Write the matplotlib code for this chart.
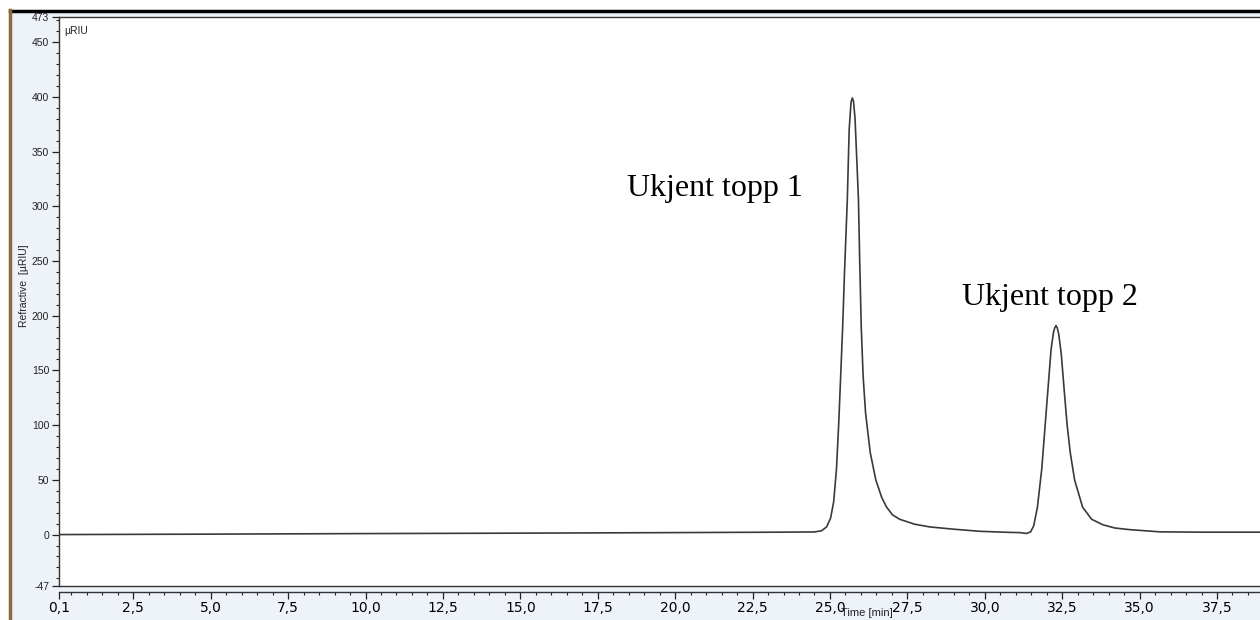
import matplotlib
matplotlib.use("Agg")
import matplotlib.pyplot as plt
from matplotlib.patches import Rectangle
from matplotlib.lines import Line2D

tid = [0.1, 5.0, 10.0, 15.0, 20.0, 23.4, 24.50, 24.73, 24.89, 25.02, 25.12,
       25.21, 25.28, 25.34, 25.41, 25.47, 25.56, 25.62, 25.68, 25.72, 25.76,
       25.81, 25.87, 25.92, 25.96, 26.01, 26.07, 26.15, 26.30, 26.48, 26.67,
       26.83, 27.02, 27.25, 27.73, 28.22, 28.96, 29.83, 30.80, 31.13, 31.35,
       31.48, 31.58, 31.70, 31.84, 31.98, 32.06, 32.14, 32.22, 32.26, 32.30,
       32.34, 32.39, 32.47, 32.57, 32.66, 32.76, 32.90, 33.16, 33.45, 33.81,
       34.20, 34.68, 35.65, 36.95, 39.1]
signal = [0.0, 0.4, 0.9, 1.3, 1.8, 2.2, 2.4, 3.5, 7.0, 15.0, 30.0,
          60.0, 100.0, 141.0, 190.0, 240.0, 306.0, 370.0, 395.0, 399.0, 396.0,
          380.0, 340.0, 306.0, 250.0, 190.0, 145.0, 111.0, 75.0, 50.0, 34.0,
          25.0, 18.0, 14.0, 9.5, 7.0, 5.0, 3.0, 2.0, 1.8, 1.0,
          2.5, 8.0, 25.0, 60.0, 111.0, 140.0, 169.0, 185.0, 189.0, 191.0,
          189.0, 183.0, 165.0, 130.0, 100.0, 75.0, 50.0, 25.0, 14.0, 9.0,
          6.0, 4.5, 2.5, 2.2, 2.2]

xticks = [0.1, 2.5, 5.0, 7.5, 10.0, 12.5, 15.0, 17.5, 20.0, 22.5, 25.0,
          27.5, 30.0, 32.5, 35.0, 37.5]
yticks = [-47, 0, 50, 100, 150, 200, 250, 300, 350, 400, 450, 473]

topper = ["Ukjent topp 1", "Ukjent topp 2"]
topp_pos = [(18.46, 309), (29.28, 210)]

W, H = 1260, 620
fig = plt.figure(figsize=(W / 100, H / 100), dpi=100, facecolor="white")

# ----- cadre de la fenetre du logiciel -----
fig.patches.append(Rectangle((10 / W, 0), 1, (H - 10) / H, transform=fig.transFigure,
                             facecolor="#eef2f9", edgecolor="none", zorder=-10))
fig.lines.append(Line2D([10 / W, 1], [(H - 11) / H] * 2, transform=fig.transFigure,
                        color="black", lw=2.5, zorder=-5))
fig.lines.append(Line2D([9.5 / W] * 2, [0, (H - 10) / H], transform=fig.transFigure,
                        color="#8a6a40", lw=2.5, zorder=-5))

ax = fig.add_axes([59 / W, 34 / H, (1265 - 59) / W, (586 - 17) / H])
ax.set_facecolor("white")
ax.plot(tid, signal, color="#3a3a3a", lw=1.2)

ax.set_xlim(0.1, 39.05)
ax.set_ylim(-47, 473)

ax.set_xticks(xticks)
ax.set_xticklabels([("%.1f" % v).replace(".", ",") for v in xticks])
ax.set_xticks([0.5 * i for i in range(1, 78) if 0.5 * i not in xticks], minor=True)
ax.set_yticks(yticks)
ax.set_yticklabels([str(v) for v in yticks])
ax.set_yticks([v for v in range(-40, 471, 10) if v not in yticks], minor=True)

for lab in ax.get_xticklabels() + ax.get_yticklabels():
    lab.set_fontfamily("Liberation Sans")
    lab.set_fontsize(7.5)
    lab.set_color("#222222")

ax.tick_params(which="major", direction="out", length=5, width=0.9, color="#222222", pad=2)
ax.tick_params(which="minor", direction="out", length=2.5, width=0.8, color="#222222")
for s in ["left", "top", "bottom"]:
    ax.spines[s].set_color("#333333")
    ax.spines[s].set_linewidth(1.0)
ax.spines["right"].set_visible(False)
ax.spines["bottom"].set_position(("outward", 4))
ax.axhline(-47, color="#333333", lw=1.0, clip_on=False)

ax.set_ylabel("Refractive  [µRIU]", fontfamily="Liberation Sans", fontsize=7.5,
              color="#222222")
ax.yaxis.set_label_coords(-0.025, 0.527)
ax.text(26.18, -0.047, "Time [min]", transform=ax.get_xaxis_transform(),
        ha="center", va="center", fontfamily="Liberation Sans", fontsize=8, color="#222222")
ax.text(0.004, 0.985, "µRIU", transform=ax.transAxes, ha="left", va="top",
        fontfamily="Liberation Sans", fontsize=7.5, color="#222222")

for txt, (x, y) in zip(topper, topp_pos):
    ax.text(x, y, txt, ha="left", va="baseline", fontfamily="Liberation Serif",
            fontsize=23, color="black")

fig.savefig("out.png", dpi=100, facecolor=fig.get_facecolor())
